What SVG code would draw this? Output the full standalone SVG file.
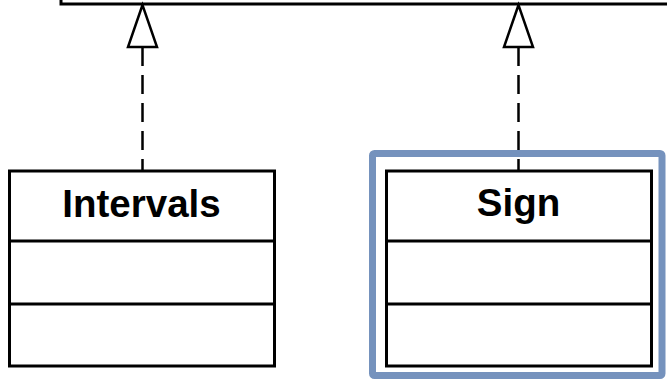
<svg xmlns="http://www.w3.org/2000/svg" width="667" height="382" viewBox="0 0 667 382">
<style>
.box{fill:#fff;stroke:#000;stroke-width:3}
.div{stroke:#000;stroke-width:3}
.lbl{font-family:"Liberation Sans",Arial,sans-serif;font-weight:bold;font-size:38.5px;fill:#000;text-anchor:middle}
.dash{stroke:#000;stroke-width:2.5;stroke-dasharray:19 9;fill:none}
.head{fill:#fff;stroke:#000;stroke-width:2.5;stroke-linejoin:miter}
</style>
<rect width="667" height="382" fill="#fff"/>
<g id="parent">
<polyline points="61,0 61,4 667,4" fill="none" stroke="#000" stroke-width="3"/>
</g>
<g id="highlight">
<rect x="372.5" y="153.5" width="289.5" height="222" rx="2" fill="none" stroke="#7592bd" stroke-width="7"/>
</g>
<g id="connectors">
<line class="dash" x1="142.5" y1="47" x2="142.5" y2="171"/>
<polygon class="head" points="142.5,5 128,47 157,47"/>
<line class="dash" x1="518.5" y1="47" x2="518.5" y2="171"/>
<polygon class="head" points="518.5,5 504,47 533,47"/>
</g>
<g id="intervals">
<rect class="box" x="9.5" y="171" width="265" height="195"/>
<line class="div" x1="9.5" y1="241" x2="274.5" y2="241"/>
<line class="div" x1="9.5" y1="304" x2="274.5" y2="304"/>
<text class="lbl" x="141.5" y="217">Intervals</text>
</g>
<g id="sign">
<rect class="box" x="386.5" y="171" width="265" height="195"/>
<line class="div" x1="386.5" y1="241" x2="651.5" y2="241"/>
<line class="div" x1="386.5" y1="304" x2="651.5" y2="304"/>
<text class="lbl" x="518.5" y="216">Sign</text>
</g>
</svg>
